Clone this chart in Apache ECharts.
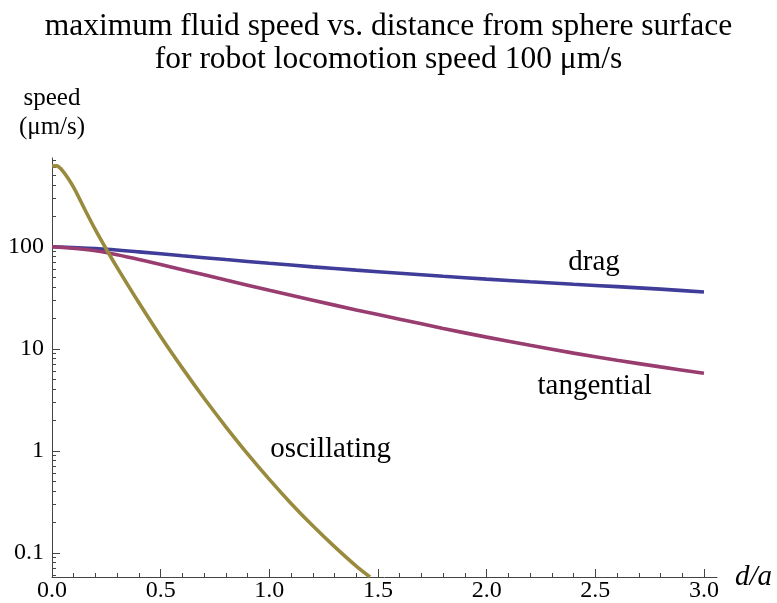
<!DOCTYPE html>
<html>
<head>
<meta charset="utf-8">
<title>maximum fluid speed vs. distance</title>
<script src="https://cdn.jsdelivr.net/npm/echarts@6/dist/echarts.min.js"></script>
<style>
  html, body { margin: 0; padding: 0; background: #fff; }
  #chart { width: 777px; height: 603px; }
</style>
</head>
<body>
<div id="chart"></div>
<script>
// distance from sphere surface, in units of the radius (d/a)
var dSteps = [0, 0.2, 0.4, 0.6, 0.8, 1.0, 1.2, 1.4, 1.6, 1.8, 2.0, 2.2, 2.4, 2.6, 2.8, 3.0];
var dragSpeed = [100, 96, 89, 81.5, 74.8, 68.8, 63.5, 58.9, 54.9, 51.3, 48.1, 45.3, 42.8, 40.6, 38.4, 36];
var tangentialSpeed = [100, 91.2, 75, 59.6, 47.1, 37.4, 29.9, 24, 19.5, 15.8, 13, 10.8, 9.06, 7.71, 6.64, 5.75];

// oscillating falls off fast, so it gets its own finer steps
var oscSteps = [0, 0.02, 0.05, 0.1, 0.15, 0.2, 0.25, 0.3, 0.4, 0.5, 0.6, 0.7, 0.8, 0.9, 1.0, 1.1, 1.2, 1.3, 1.4, 1.463];
var oscSpeed = [618, 620, 550, 380, 234, 146, 94.4, 62.4, 28.2, 13.2, 6.46, 3.27, 1.72, 0.933, 0.525, 0.305, 0.184, 0.115, 0.0741, 0.058];

var xMajor = [0, 0.5, 1.0, 1.5, 2.0, 2.5, 3.0];
var xMinor = [0.1, 0.2, 0.3, 0.4, 0.6, 0.7, 0.8, 0.9, 1.1, 1.2, 1.3, 1.4, 1.6, 1.7, 1.8, 1.9,
              2.1, 2.2, 2.3, 2.4, 2.6, 2.7, 2.8, 2.9];
var yMajor = [0.1, 1, 10, 100];
var yMinor = [0.06, 0.07, 0.08, 0.09, 0.2, 0.3, 0.4, 0.5, 0.6, 0.7, 0.8, 0.9,
              2, 3, 4, 5, 6, 7, 8, 9, 20, 30, 40, 50, 60, 70, 80, 90,
              200, 300, 400, 500, 600, 700];

// where the curve names sit (data coords)
var curveLabels = [
  { name: 'drag', at: [2.494, 70.8] },
  { name: 'tangential', at: [2.497, 4.23] },
  { name: 'oscillating', at: [1.282, 1.03] }
];

function pairs(xs, ys) {
  return xs.map(function (x, i) { return [x, ys[i]]; });
}

var FONT = '"Liberation Serif", "Times New Roman", serif';
var AXIS_COLOR = '#444';
var X_MIN = 0, X_MAX = 3.06;
var Y_MIN = 0.058, Y_MAX = 740;

function labelPoint(name) {
  var l = curveLabels.filter(function (c) { return c.name === name; })[0];
  return {
    symbol: 'rect',
    symbolSize: 1,
    itemStyle: { color: 'rgba(0,0,0,0)' },
    label: {
      show: true, position: 'inside', formatter: l.name,
      color: '#000', fontFamily: FONT, fontSize: 29
    },
    data: [{ coord: l.at }]
  };
}

function lineSeries(name, data, color) {
  return {
    name: name,
    type: 'line',
    xAxisIndex: 0,
    yAxisIndex: 0,
    data: data,
    smooth: 0.3,
    showSymbol: false,
    lineStyle: { color: color, width: 3.6 },
    markPoint: labelPoint(name),
    silent: true,
    z: 3
  };
}

var chart = echarts.init(document.getElementById('chart'));

var option = {
  animation: false,
  backgroundColor: '#fff',
  title: {
    text: 'maximum fluid speed vs. distance from sphere surface\nfor robot locomotion speed 100 μm/s',
    left: 'center',
    top: 5,
    textStyle: {
      fontFamily: FONT, fontSize: 31.5, fontWeight: 'normal',
      color: '#000', lineHeight: 33
    }
  },
  // keep the plot box fixed; labels may sit near the canvas edge
  grid: { left: 52, right: 60, top: 158, bottom: 26, containLabel: false, outerBoundsMode: 'none' },
  xAxis: [{
    type: 'value',
    min: X_MIN, max: X_MAX,
    name: 'd/a',
    nameLocation: 'end',
    nameGap: 18,
    nameTextStyle: { fontFamily: FONT, fontSize: 29, fontStyle: 'italic', color: '#000',
                     verticalAlign: 'middle', align: 'left' },
    axisLine: { lineStyle: { color: AXIS_COLOR, width: 1 } },
    axisTick: { inside: true, length: 8, customValues: xMajor, lineStyle: { color: AXIS_COLOR } },
    axisLabel: {
      customValues: xMajor, margin: 2,
      fontFamily: FONT, fontSize: 24, color: '#000',
      formatter: function (v) { return v.toFixed(1); }
    },
    splitLine: { show: false }
  }, {
    type: 'value',
    min: X_MIN, max: X_MAX,
    position: 'bottom',
    axisLine: { show: false },
    axisTick: { inside: true, length: 4, customValues: xMinor, lineStyle: { color: AXIS_COLOR } },
    axisLabel: { show: false },
    splitLine: { show: false }
  }],
  yAxis: [{
    type: 'log',
    logBase: 10,
    min: Y_MIN, max: Y_MAX,
    name: 'speed\n(μm/s)',
    nameLocation: 'end',
    nameGap: 16,
    nameTextStyle: { fontFamily: FONT, fontSize: 25, color: '#000', lineHeight: 29, align: 'center' },
    axisLine: { show: true, lineStyle: { color: AXIS_COLOR, width: 1 } },
    axisTick: { inside: true, length: 8, customValues: yMajor, lineStyle: { color: AXIS_COLOR } },
    axisLabel: {
      customValues: yMajor, margin: 8,
      fontFamily: FONT, fontSize: 24, color: '#000',
      formatter: function (v) { return String(v); }
    },
    splitLine: { show: false }
  }, {
    type: 'log',
    logBase: 10,
    min: Y_MIN, max: Y_MAX,
    position: 'left',
    axisLine: { show: false },
    axisTick: { inside: true, length: 4, customValues: yMinor, lineStyle: { color: AXIS_COLOR } },
    axisLabel: { show: false },
    splitLine: { show: false }
  }],
  series: [
    lineSeries('drag', pairs(dSteps, dragSpeed), '#3f3d99'),
    lineSeries('tangential', pairs(dSteps, tangentialSpeed), '#993d71'),
    lineSeries('oscillating', pairs(oscSteps, oscSpeed), '#998b3d')
  ]
};

chart.setOption(option);
</script>
</body>
</html>
